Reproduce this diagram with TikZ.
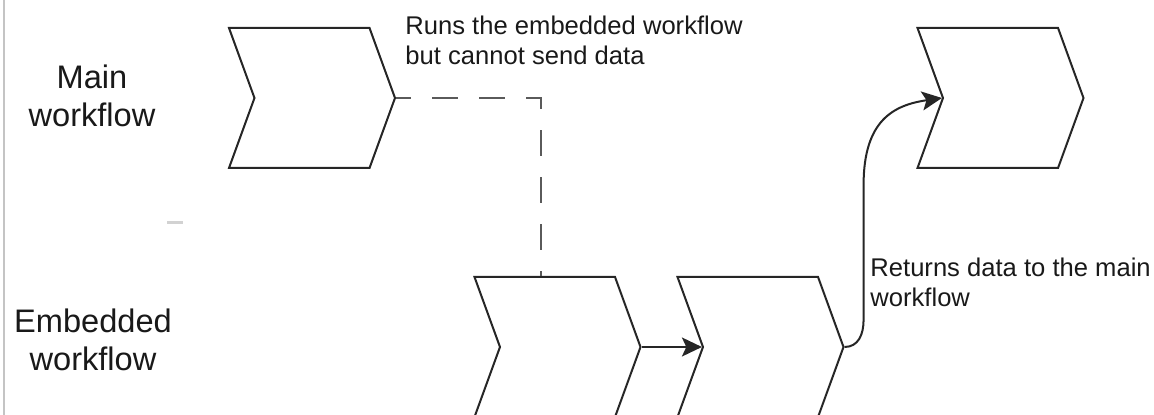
\documentclass[tikz,border=0pt]{standalone}
\usepackage{fontspec}
\setmainfont{Liberation Sans}
\usetikzlibrary{arrows.meta,shapes.symbols}
\definecolor{outline}{HTML}{262626}
\definecolor{linkgrey}{HTML}{5A5A5A}
\definecolor{framegrey}{HTML}{C4C4C4}
\definecolor{specgrey}{HTML}{D2D2D2}
\tikzset{
  stagebox/.style={draw=outline, line width=1pt, signal, signal to=east,
    signal from=west, signal pointer angle=140, minimum width=83pt,
    minimum height=70pt, inner sep=0pt},
  lanelabel/.style={align=center, font=\fontsize{16.3}{18.8}\selectfont, text=black!90},
  notelabel/.style={align=left, anchor=north west, inner sep=0pt,
    font=\fontsize{12.8}{14.6}\selectfont, text=black!90},
  arr/.style={-{Stealth[length=10pt, width=9.5pt, inset=2.2pt]}, line width=1pt, draw=outline},
  dasharr/.style={draw=linkgrey, line width=0.9pt, dash pattern=on 13pt off 10.5pt,
    dash phase=5.5pt}
}
\begin{document}
\begin{tikzpicture}[x=0.5pt, y=-0.5pt]
    \clip (0,0) rectangle (1154,415);
    \draw[framegrey, line width=1pt] (4,0) -- (4,415);
    \draw[specgrey, line width=1.5pt] (167,223) -- (183,223);
    \node[lanelabel] (mainlbl) at (92,96) {Main\\workflow};
    \node[lanelabel] (sublbl) at (93,340) {Embedded\\workflow};
    \node[stagebox] (main1) at (312,98) {};
    \node[stagebox] (main2) at (1000.5,98) {};
    \node[stagebox] (sub1) at (557.5,347) {};
    \node[stagebox] (sub2) at (760.5,347) {};
    \node[notelabel] (runsnote) at (405,16) {Runs the embedded workflow\\but cannot send data};
    \node[notelabel] (returnnote) at (870,258) {Returns data to the main\\workflow};
    \draw[dasharr] (main1.east) -| ([xshift=-8.25pt]sub1.north);
    \draw[arr] (sub1.east) -- (sub2.west);
    \draw[arr] (sub2.east) .. controls +(14,0) and +(0,14) .. ++(19,-27)
      -- ++(0,-135) .. controls +(0,-65) and +(-48,7) .. (main2.west);
  \end{tikzpicture}
\end{document}
